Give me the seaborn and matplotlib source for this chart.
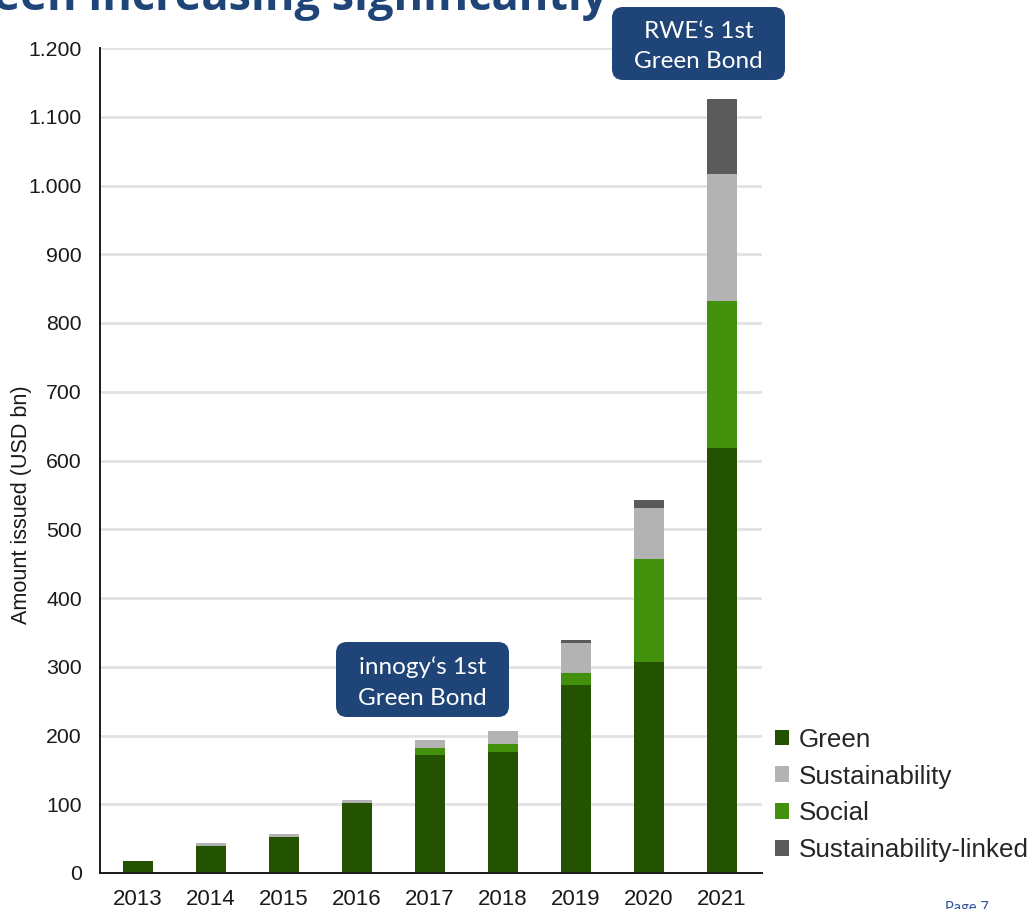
import matplotlib
matplotlib.use("Agg")
import matplotlib.pyplot as plt
import matplotlib.transforms as mtransforms
from matplotlib.patches import FancyBboxPatch, Patch
from matplotlib.ticker import FuncFormatter, MultipleLocator
import seaborn as sns
import pandas as pd

# Annual issuance by bond type (USD bn)
years = ["2013", "2014", "2015", "2016", "2017", "2018", "2019", "2020", "2021"]
green = [17, 39, 52, 102, 172, 176, 273, 307, 618]
social = [0, 0, 1, 0, 10, 12, 18, 150, 214]
sustainability = [0, 4, 4, 4, 11, 18, 44, 74, 185]
linked = [0, 0, 0, 0, 0, 0, 4, 12, 109]

series_names = ["Green", "Sustainability", "Social", "Sustainability-linked"]
colors = {
    "Green": "#235301",
    "Social": "#43900c",
    "Sustainability": "#b3b3b3",
    "Sustainability-linked": "#5a5a5a",
}
navy = "#1f4477"

df = pd.DataFrame({
    "year": years,
    "Green": green,
    "Social": social,
    "Sustainability": sustainability,
    "Sustainability-linked": linked,
})
# stacking order from the bottom: Green, Social, Sustainability, Sustainability-linked
df["top_green"] = df["Green"]
df["top_social"] = df["top_green"] + df["Social"]
df["top_sust"] = df["top_social"] + df["Sustainability"]
df["top_linked"] = df["top_sust"] + df["Sustainability-linked"]

sns.set_style("white")
plt.rcParams["font.family"] = ["Liberation Sans", "DejaVu Sans"]

W, H = 1030, 909
fig = plt.figure(figsize=(W / 100, H / 100), dpi=100)
ax = fig.add_axes([100 / W, 36 / H, 662 / W, 825 / H])

layers = [
    ("top_linked", "Sustainability-linked"),
    ("top_sust", "Sustainability"),
    ("top_social", "Social"),
    ("top_green", "Green"),
]
for col, name in layers:
    sns.barplot(data=df, x="year", y=col, order=years, color=colors[name],
                saturation=1, width=0.41, errorbar=None, linewidth=0, ax=ax)

ax.set_xlim(-0.52, 8.55)
ax.set_ylim(0, 1200)
ax.yaxis.set_major_locator(MultipleLocator(100))
ax.yaxis.set_major_formatter(FuncFormatter(lambda v, p: f"{int(v):,}".replace(",", ".")))
ax.yaxis.grid(True, color="#e2e2e2", linewidth=2)
ax.xaxis.grid(False)
ax.set_axisbelow(True)

for s in ["top", "right"]:
    ax.spines[s].set_visible(False)
for s in ["left", "bottom"]:
    ax.spines[s].set_color("#1a1a1a")
    ax.spines[s].set_linewidth(1.4)

ax.tick_params(axis="y", length=4, width=1.2, color="#333333", pad=9,
               labelsize=15.3, labelcolor="#1a1a1a")
ax.tick_params(axis="x", length=0, pad=11.5, labelsize=16, labelcolor="#1a1a1a")
ax.set_xlabel("")
ax.set_ylabel("Amount issued (USD bn)", fontsize=15.6, color="#1a1a1a")
ax.yaxis.set_label_coords(-0.103, 0.446)

handles = [Patch(facecolor=colors[n], edgecolor="none", label=n) for n in series_names]
fig.legend(handles=handles, loc="center left",
           bbox_to_anchor=(775 / W, (H - 795) / H), frameon=False,
           fontsize=18.7, handlelength=0.55, handleheight=0.55,
           handletextpad=0.35, labelspacing=0.5, borderpad=0, borderaxespad=0)

# rounded callout boxes, drawn in pixel coordinates
pix = mtransforms.IdentityTransform()


def callout(x0, y_top, w, h, text):
    y0 = H - y_top - h
    box = FancyBboxPatch((x0, y0), w, h, boxstyle="round,pad=0,rounding_size=11",
                         facecolor=navy, edgecolor="none", transform=pix,
                         figure=fig, zorder=5)
    fig.patches.append(box)
    fig.text((x0 + w / 2) / W, (y0 + h / 2 - 3) / H, text, ha="center", va="center",
             color="white", fontsize=17.5, family=["Lato", "DejaVu Sans"],
             linespacing=1.55, zorder=6)


callout(336, 642, 173, 75, "innogy\u2018s 1st\nGreen Bond")
callout(612, 7, 173, 73, "RWE\u2018s 1st\nGreen Bond")

# headline, partly outside the canvas at the top
fig.text(607 / W, (H - 10) / H, "has been increasing significantly", ha="right",
         va="baseline", fontsize=32.5, fontweight="bold", color=navy,
         family=["Open Sans", "DejaVu Sans"])

fig.text(967 / W, (H - 901) / H, "Page 7", ha="center", va="top", fontsize=10.5,
         color="#2f5597", family=["Lato", "DejaVu Sans"])

fig.savefig("out.png", dpi=100)
